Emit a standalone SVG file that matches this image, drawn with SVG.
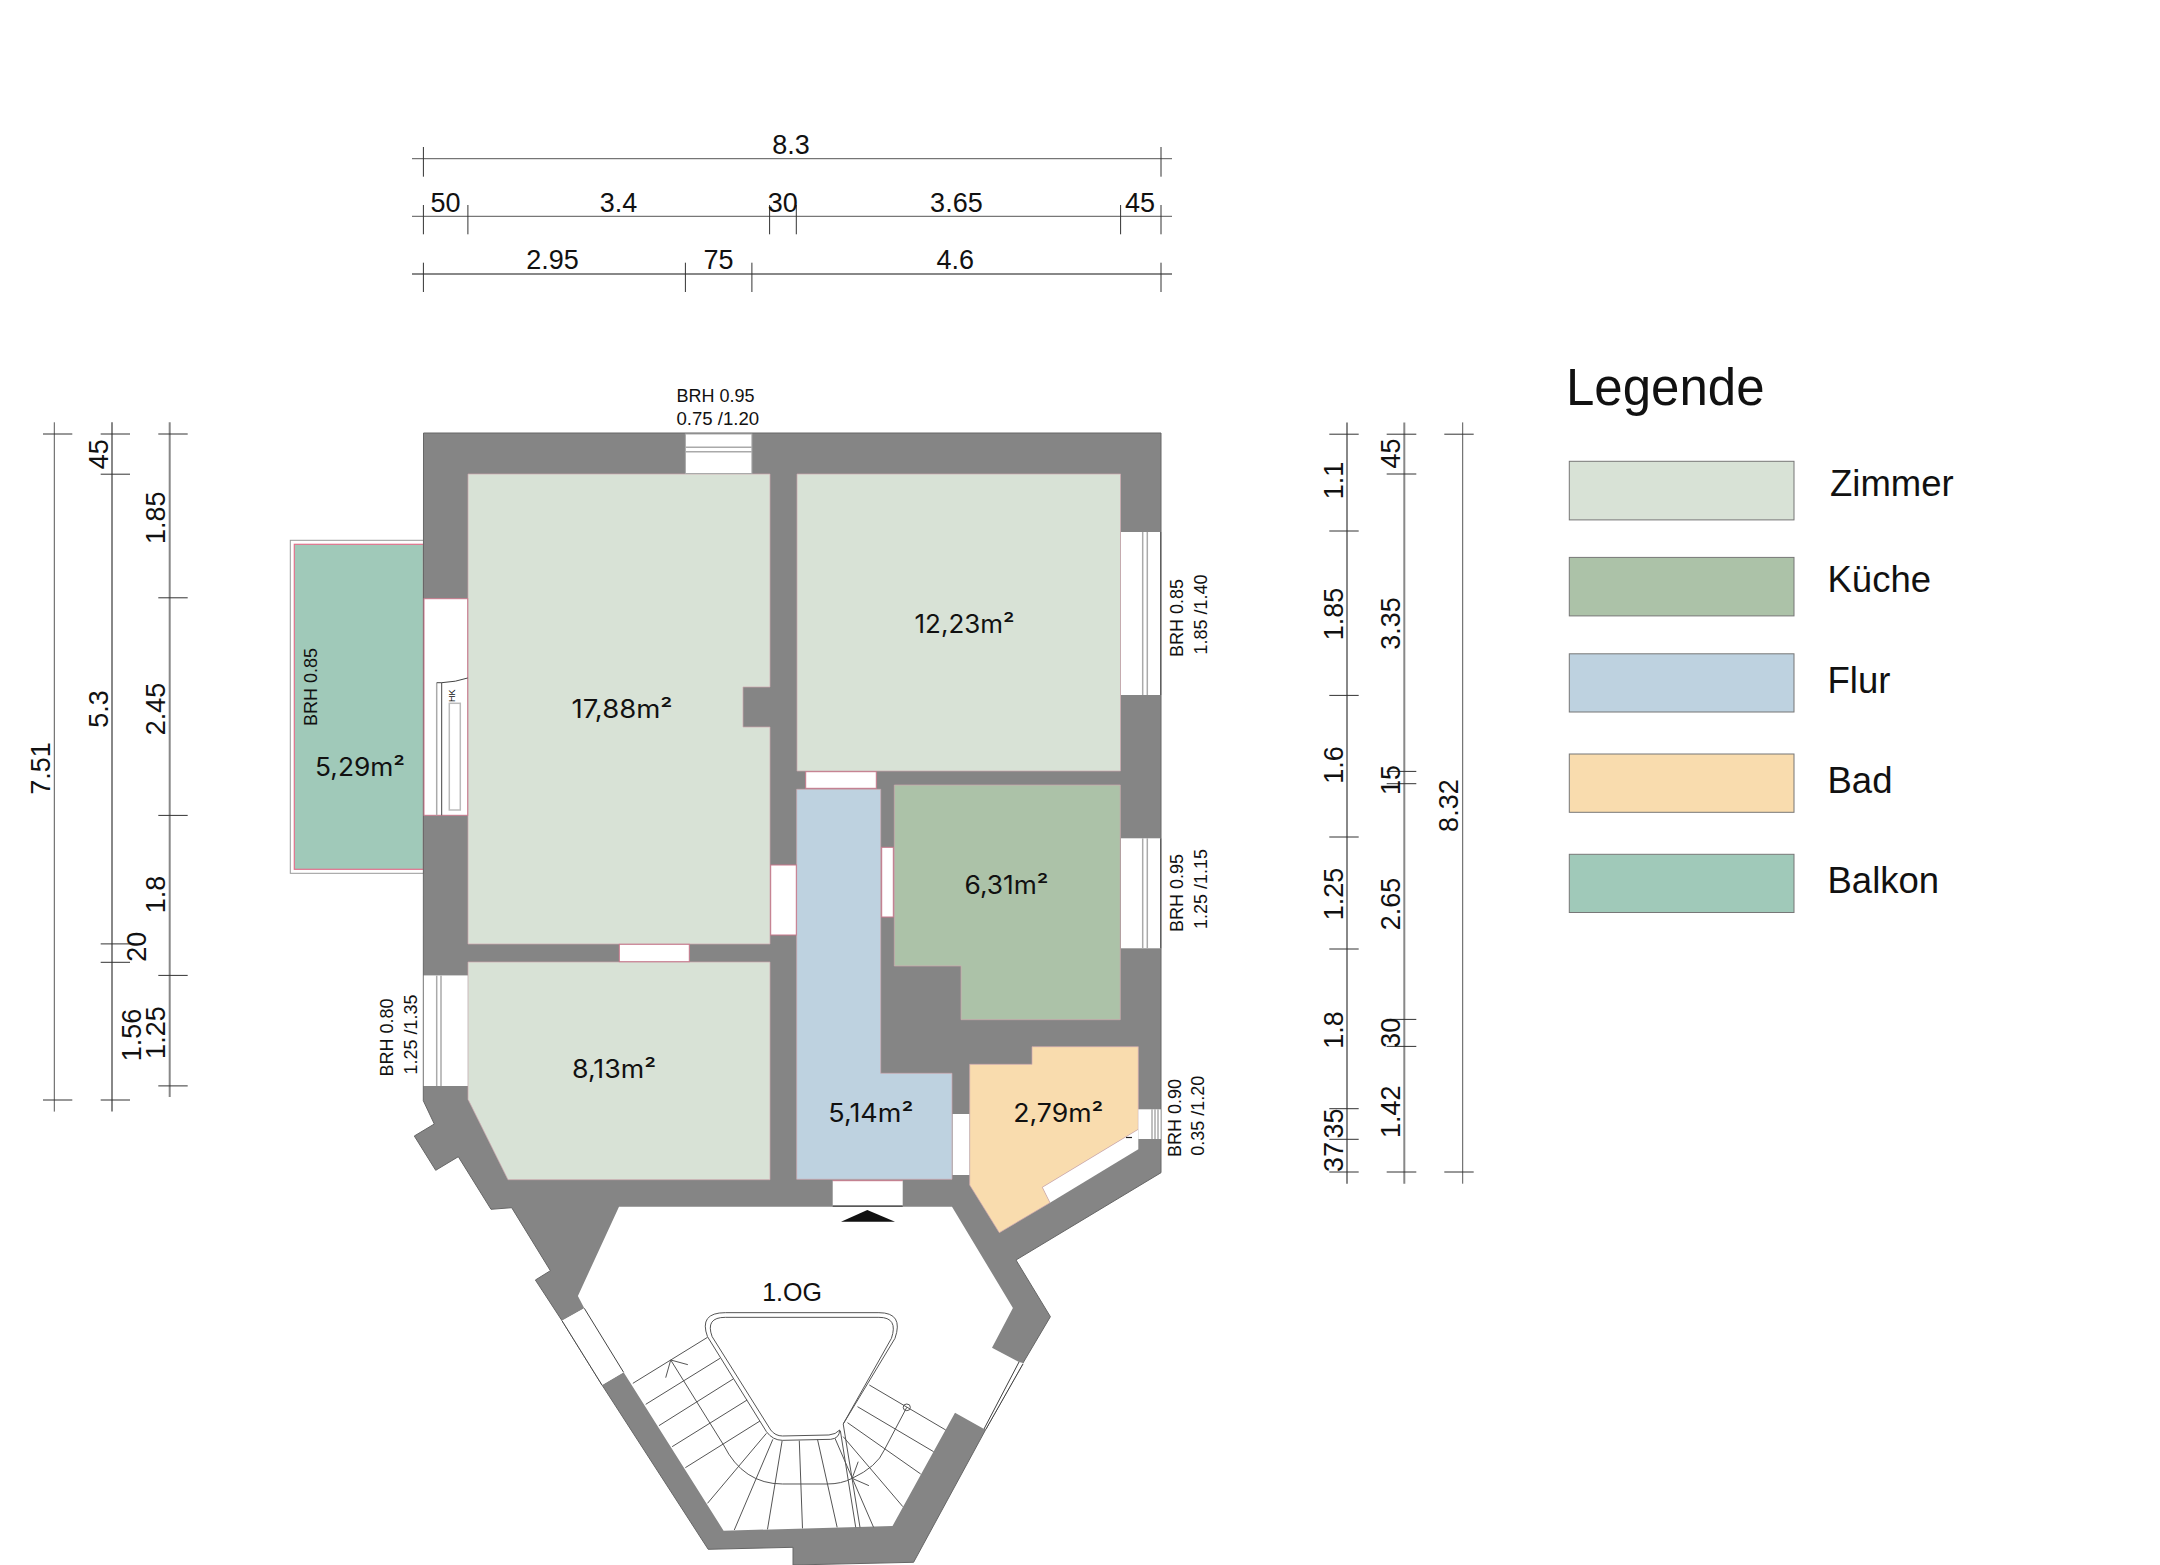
<svg xmlns="http://www.w3.org/2000/svg" width="2160" height="1565" viewBox="0 0 2160 1565">
<style>
text{font-family:"Liberation Sans",Arial,sans-serif;fill:#111}
.d{font-size:27px;text-anchor:middle}
.b{font-size:18px;text-anchor:middle}
.a{font-family:"Inter","Noto Sans",sans-serif;font-size:25px;text-anchor:middle}
.l{font-size:36.5px}
.w{fill:#858585;stroke:#666;stroke-width:1}
.r{stroke:#cfa8b0;stroke-width:.7}
.o{fill:#fff;stroke:#c9798c;stroke-width:1}
.g{fill:none;stroke:#aaa;stroke-width:1.5}
.k{fill:none;stroke:#444;stroke-width:1}
.h{stroke:#555;stroke-width:1;fill:none}
.h2{stroke:#888;stroke-width:2;fill:none}
.t{stroke:#333;stroke-width:1;fill:none}
.s{fill:none;stroke:#555;stroke-width:1;vector-effect:non-scaling-stroke}
.m{stroke:#777;stroke-width:1}
</style>
<g id="dimensions-top">
<path class="h" d="M412 158.7H1172M412 216.3H1172"/><path class="h2" d="M412 274H1172"/>
<path class="t" d="M423.4 147V176.7M1161 147V176.7M423.4 205V234.3M467.9 205V234.3M769.6 205V234.3M796.3 205V234.3M1120.6 205V234.3M1161 205V234.3M423.4 262.7V292M685.4 262.7V292M751.9 262.7V292M1161 262.7V292"/>
<text class="d" x="791" y="154">8.3</text>
<text class="d" x="445.4" y="211.7">50</text><text class="d" x="618.5" y="211.7">3.4</text><text class="d" x="782.7" y="211.7">30</text><text class="d" x="956.4" y="211.7">3.65</text><text class="d" x="1140" y="211.7">45</text>
<text class="d" x="552.6" y="268.7">2.95</text><text class="d" x="718.4" y="268.7">75</text><text class="d" x="955.3" y="268.7">4.6</text>
</g>
<g id="dimensions-left">
<path class="h" d="M54.3 422.3V1111.6"/><path class="h2" d="M112 422.3V1111.6M169.7 422.3V1097"/>
<path class="t" d="M43 434H72.3M43 1100H72.3M100.7 434H130M100.7 474.2H130M100.7 943.9H130M100.7 962.3H130M100.7 1100H130M158.3 434H187.7M158.3 597.8H187.7M158.3 815.4H187.7M158.3 975.4H187.7M158.3 1085.9H187.7"/>
<text class="d" transform="translate(50 768.4) rotate(-90)">7.51</text>
<text class="d" transform="translate(108.3 454.3) rotate(-90)">45</text>
<text class="d" transform="translate(108.3 709) rotate(-90)">5.3</text>
<text class="d" transform="translate(146 946.8) rotate(-90)">20</text>
<text class="d" transform="translate(141 1035) rotate(-90)">1.56</text>
<text class="d" transform="translate(165 517.8) rotate(-90)">1.85</text>
<text class="d" transform="translate(165 709) rotate(-90)">2.45</text>
<text class="d" transform="translate(165 894.4) rotate(-90)">1.8</text>
<text class="d" transform="translate(165 1032.6) rotate(-90)">1.25</text>
</g>
<g id="dimensions-right">
<path class="h2" d="M1347 422.4V1183.7M1404.3 422.4V1183.7"/><path class="h" d="M1462.7 422.4V1183.7"/>
<path class="t" d="M1329.3 434.2H1358.7M1329.3 531H1358.7M1329.3 695.4H1358.7M1329.3 837H1358.7M1329.3 949H1358.7M1329.3 1108.7H1358.7M1329.3 1139.3H1358.7M1329.3 1172H1358.7M1386.7 434.2H1416.3M1386.7 474H1416.3M1386.7 771.4H1416.3M1386.7 783.7H1416.3M1386.7 1019.4H1416.3M1386.7 1046.4H1416.3M1386.7 1172H1416.3M1444.3 434.2H1473.7M1444.3 1172H1473.7"/>
<text class="d" transform="translate(1342.7 480.6) rotate(-90)">1.1</text>
<text class="d" transform="translate(1342.7 614) rotate(-90)">1.85</text>
<text class="d" transform="translate(1342.7 765) rotate(-90)">1.6</text>
<text class="d" transform="translate(1342.7 894) rotate(-90)">1.25</text>
<text class="d" transform="translate(1342.7 1030) rotate(-90)">1.8</text>
<text class="d" transform="translate(1342.7 1123.5) rotate(-90)">35</text>
<text class="d" transform="translate(1342.7 1157) rotate(-90)">37</text>
<text class="d" transform="translate(1400 453.6) rotate(-90)">45</text>
<text class="d" transform="translate(1400 623.5) rotate(-90)">3.35</text>
<text class="d" transform="translate(1400 780) rotate(-90)">15</text>
<text class="d" transform="translate(1400 904) rotate(-90)">2.65</text>
<text class="d" transform="translate(1400 1032.7) rotate(-90)">30</text>
<text class="d" transform="translate(1400 1111.7) rotate(-90)">1.42</text>
<text class="d" transform="translate(1457.7 805.6) rotate(-90)">8.32</text>
</g>
<g id="balcony">
<rect x="290.3" y="540.3" width="133.2" height="333" fill="#fff" stroke="#999" stroke-width="1"/>
<rect x="294.3" y="544.3" width="129.2" height="325" fill="#a0c9b9" stroke="#e0708c" stroke-width="1.2"/>
</g>
<g id="walls">
<path class="w" d="M423.5 433H1161V1172.7L1016 1260L1050.4 1316.7L1023 1363L986 1429L913.6 1562.3L793 1565V1547.3L708.2 1549.3L602 1385L562 1320.7L535.4 1280L550.4 1270.7L511.7 1207.7L491 1209.3L458.3 1156.7L435.7 1170.3L414.3 1136L434.3 1124L423.3 1100.7Z"/>
<path fill="#fff" d="M619 1206.7H952L1012.9 1308L992 1347.7L1019 1362L984 1429L955 1412.7L892.5 1526L723.6 1530.7L623.6 1372.3L602 1385L562 1320.7L584.3 1308.3L577.9 1296Z"/>
</g>
<g id="stair-windows">
<path fill="#fff" d="M562 1320.7L584.3 1308.3L623.6 1372.3L602 1385Z"/>
<path class="k" d="M562 1320.7L602 1385M584.3 1308.3L623.6 1372.3"/>
<path fill="#fff" d="M1019 1362L1023 1363L986 1429L984 1429Z"/>
<path class="k" d="M1019 1362L984 1429M1023 1364L986 1429"/>
</g>
<g id="room-17-88">
<path class="r" fill="#d8e2d6" d="M468 474H770V687H743V727H770V944H468Z"/>
<text class="a" x="622" y="718" textLength="101" lengthAdjust="spacingAndGlyphs">17,88m²</text>
</g>
<g id="room-12-23">
<path class="r" fill="#d8e2d6" d="M797 474H1120.5V771H797Z"/>
<text class="a" x="964.5" y="633" textLength="100" lengthAdjust="spacingAndGlyphs">12,23m²</text>
</g>
<g id="room-8-13">
<path class="r" fill="#d8e2d6" d="M468 962H770V1179.7H508L468 1099.3Z"/>
<text class="a" x="614" y="1077.7" textLength="84" lengthAdjust="spacingAndGlyphs">8,13m²</text>
</g>
<g id="room-6-31">
<path class="r" fill="#acc2a8" d="M894.3 785H1120.3V1019.7H961V966H894.3Z"/>
<text class="a" x="1006.5" y="894.3" textLength="84" lengthAdjust="spacingAndGlyphs">6,31m²</text>
</g>
<g id="room-5-14">
<path class="r" fill="#bed2e0" d="M796.7 789.3H880.7V1073.3H952V1179.3H796.7Z"/>
<text class="a" x="870.8" y="1121.7" textLength="85" lengthAdjust="spacingAndGlyphs">5,14m²</text>
</g>
<g id="room-2-79">
<path fill="#fff" d="M1042.3 1187.3L1138.3 1129.3V1149.3L1050 1202.7Z"/>
<path class="r" fill="#f9dcae" d="M969.7 1064.3H1032V1046.7H1138.3V1129.3L1042.3 1187.3L1050 1202.7L999.3 1232.7L969.7 1185Z"/>
<text class="a" x="1058.3" y="1121.7" textLength="90" lengthAdjust="spacingAndGlyphs">2,79m²</text>
</g>
<g id="room-5-29">
<text class="a" x="360" y="776" textLength="90" lengthAdjust="spacingAndGlyphs">5,29m²</text>
</g>
<g id="openings">
<rect x="685.4" y="434" width="66.5" height="39.5" fill="#fff" stroke="#aaa"/>
<path class="g" d="M685.4 447.3H751.9M685.4 451.7H751.9"/>
<rect x="770.7" y="865" width="25.6" height="70" class="o"/>
<rect x="619.3" y="944.3" width="70" height="17.4" class="o"/>
<rect x="805.7" y="771.7" width="70.6" height="16.6" class="o"/>
<rect x="881.7" y="847.3" width="11.6" height="69.7" class="o"/>
<rect x="952.7" y="1114" width="16.6" height="61" fill="#fff"/>
<rect x="832.7" y="1180.7" width="70" height="25.3" fill="#fff"/>
<path stroke="#c9798c" d="M832.7 1180.7H902.7"/>
<path stroke="#111" stroke-width="1.2" d="M832.7 1206H902.7"/>
<path fill="#111" d="M841 1221.7H895L867.3 1210Z"/>
<rect x="1121" y="532" width="39.7" height="163" fill="#fff"/>
<path class="g" d="M1142.7 532V695M1147.3 532V695"/><path class="k" d="M1160.7 532V695"/>
<rect x="1121" y="838.3" width="39.7" height="110" fill="#fff"/>
<path class="g" d="M1142.7 838.3V948.3M1147.3 838.3V948.3"/><path class="k" d="M1160.7 838.3V948.3"/>
<path fill="#fff" d="M1138.3 1109.3H1160.7V1139H1138.3V1129.3Z"/>
<path class="g" stroke-width="1" d="M1152 1109.3V1139M1155 1109.3V1139M1158 1109.3V1139"/>
<path stroke="#222" stroke-width="1.2" d="M1126 1137.5H1132"/>
<rect x="423.8" y="975.4" width="43.9" height="110.6" fill="#fff"/>
<path class="g" d="M436.7 975.4V1086M441 975.4V1086"/>
<rect x="424" y="598.7" width="43.7" height="216.6" class="o"/>
<path class="g" d="M436.7 682.7V815.3"/><path class="k" d="M441.7 682.7V815.3M436.7 682.7H441.7Q456 682 467.7 678"/>
<rect x="449.3" y="703.3" width="11" height="106.7" fill="none" stroke="#bbb" stroke-width="1.5"/>
<text transform="translate(455 702) rotate(-90)" font-size="9">HK</text>
</g>
<g id="stairs" transform="matrix(.35714 0 0 .33333 520 1200)">
<path class="s" d="M905 672L1050 415Q1075 338 1005 338H575Q500 338 525 410L690 695Q708 721 735 721L870 718Q895 715 895 690"/>
<path class="s" d="M905 672L1040 415Q1060 352 1005 352H575Q518 352 538 410L702 690Q715 708 735 708L865 705Q885 703 895 690"/>
<path class="s" d="M525 412L316 550M560 475L352 613M597 537L389 677M636 600L426 740M672 663L463 803M690 700L525 910M708 718L600 990M734 722L693 988M782 722L791 985M833 718L888 982M882 715L990 982M905 710L1072 920M917 668L1122 822M945 620L1158 755M978 555L1192 690"/>
<path class="s" d="M897 692L940 982M905 672L952 982"/>
<path class="s" d="M422 480L570 735Q625 852 735 852H860Q900 852 930 835Q1000 800 1020 750L1083 622"/>
<path class="s" d="M408 533L422 480L470 494M947 785L930 835L977 857"/>
<ellipse class="s" cx="1083" cy="622" rx="10" ry="10"/>
</g>
<g id="floor-label"><text x="792" y="1300.7" font-size="25" text-anchor="middle">1.OG</text></g>
<g id="window-labels">
<text x="676.5" y="401.7" font-size="18">BRH 0.95</text>
<text x="676.5" y="425" font-size="18.6">0.75 /1.20</text>
<text class="b" transform="translate(317.3 687) rotate(-90)">BRH 0.85</text>
<text class="b" transform="translate(393.3 1037.5) rotate(-90)">BRH 0.80</text>
<text class="b" transform="translate(416.7 1034.5) rotate(-90)">1.25 /1.35</text>
<text class="b" transform="translate(1183.3 618) rotate(-90)">BRH 0.85</text>
<text class="b" transform="translate(1207.3 614.5) rotate(-90)">1.85 /1.40</text>
<text class="b" transform="translate(1183.3 893) rotate(-90)">BRH 0.95</text>
<text class="b" transform="translate(1207.3 889) rotate(-90)">1.25 /1.15</text>
<text class="b" transform="translate(1180.7 1118) rotate(-90)">BRH 0.90</text>
<text class="b" transform="translate(1204.3 1115.7) rotate(-90)">0.35 /1.20</text>
</g>
<g id="legend">
<text x="1566" y="405" font-size="51">Legende</text>
<rect class="m" x="1569.3" y="461.3" width="224.7" height="58.6" fill="#d8e2d6"/><text class="l" x="1830" y="496">Zimmer</text>
<rect class="m" x="1569.3" y="557.4" width="224.7" height="58.5" fill="#acc2a8"/><text class="l" x="1827.5" y="591.7">Küche</text>
<rect class="m" x="1569.3" y="653.8" width="224.7" height="58.2" fill="#bed2e0"/><text class="l" x="1827.5" y="693">Flur</text>
<rect class="m" x="1569.3" y="754" width="224.7" height="58.3" fill="#f9dcae"/><text class="l" x="1827.5" y="792.6">Bad</text>
<rect class="m" x="1569.3" y="854.3" width="224.7" height="58.2" fill="#a0c9b9"/><text class="l" x="1827.5" y="893">Balkon</text>
</g>
</svg>
